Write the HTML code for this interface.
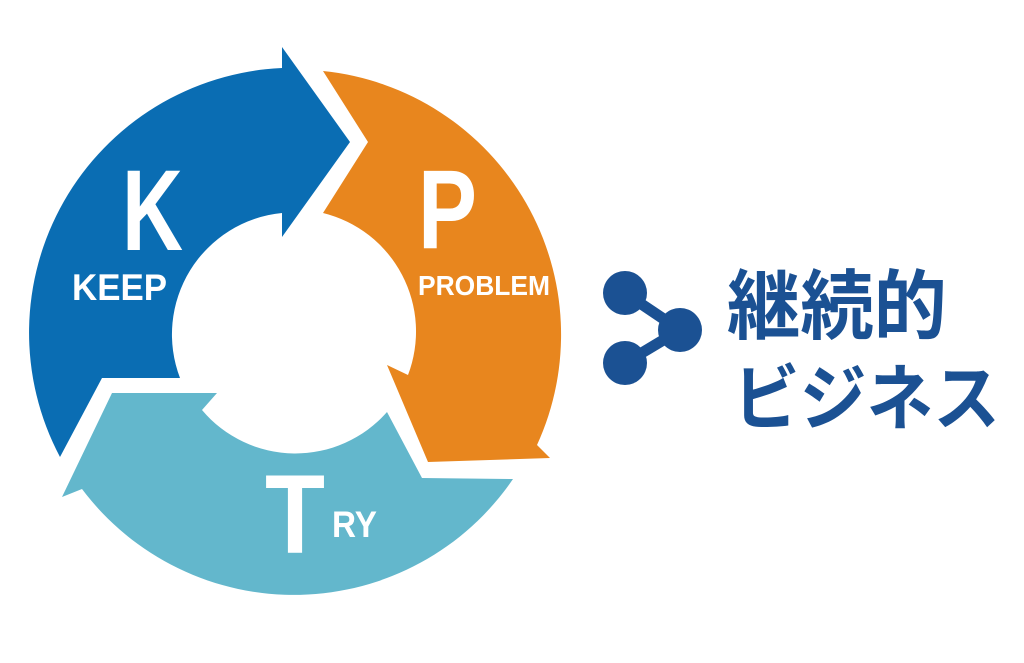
<!DOCTYPE html>
<html><head><meta charset="utf-8"><style>
html,body{margin:0;padding:0;background:#fff;width:1024px;height:663px;overflow:hidden}
svg{display:block}
</style></head><body>
<svg width="1024" height="663" viewBox="0 0 1024 663" xmlns="http://www.w3.org/2000/svg">
<rect width="1024" height="663" fill="#fff"/>
<path d="M 60,457 A 265 265 0 0 1 282,68 L 282,47 L 350,142 L 282,237 L 282,213 A 122 122 0 0 0 180,378 L 102,378 Z" fill="#0a6db3"/>
<path d="M 323,71 A 265 265 0 0 1 537,445 L 550,458 L 428,462 L 387,365 L 408,375 A 122 122 0 0 0 323,213 L 368,142 Z" fill="#e8861e"/>
<path d="M 513,479 A 265 265 0 0 1 82,489 L 62,497 L 112,393 L 217,393 L 202,410 A 122 122 0 0 0 387,412 L 422,478 Z" fill="#63b7cc"/>
<g font-family="Liberation Sans, sans-serif" font-weight="bold" fill="#fff">
<text x="122" y="250" font-size="115" textLength="61" lengthAdjust="spacingAndGlyphs">K</text>
<text x="72" y="300" font-size="37" textLength="95" lengthAdjust="spacingAndGlyphs">KEEP</text>
<text x="418" y="248" font-size="112" textLength="59" lengthAdjust="spacingAndGlyphs">P</text>
<text x="418" y="295" font-size="28" textLength="132" lengthAdjust="spacingAndGlyphs">PROBLEM</text>
<text x="265" y="553" font-size="112" textLength="60" lengthAdjust="spacingAndGlyphs">T</text>
<text x="332" y="537" font-size="37" textLength="45" lengthAdjust="spacingAndGlyphs">RY</text>
</g>
<g fill="#1b5193" stroke="#1b5193">
<line x1="625" y1="293" x2="680" y2="330" stroke-width="11"/>
<line x1="625" y1="363" x2="680" y2="330" stroke-width="11"/>
<circle cx="625" cy="293" r="22" stroke="none"/>
<circle cx="680" cy="330" r="22" stroke="none"/>
<circle cx="625" cy="363" r="22" stroke="none"/>
</g>
<g font-family="Liberation Sans, Noto Sans CJK JP, sans-serif" font-weight="bold" fill="#1b5193">
<text x="727" y="333" font-size="76" textLength="220" lengthAdjust="spacingAndGlyphs">継続的</text>
<text x="733" y="424" font-size="72" textLength="267" lengthAdjust="spacingAndGlyphs">ビジネス</text>
</g>
</svg>
</body></html>
